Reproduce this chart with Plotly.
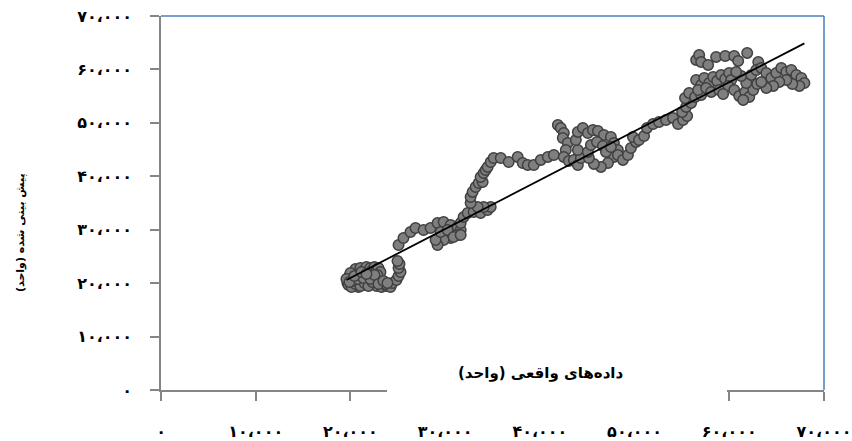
import numpy as np
import plotly.graph_objects as go

# Actual values (x) and predicted values (y), in units
actual = [
    19680, 20000, 20210, 19890, 20320, 20630, 20840, 20530, 21050, 21270,
    21480, 21690, 21900, 22110, 22320, 22540, 22750, 22960, 23170, 22850,
    22320, 21800, 21270, 20740, 20320, 20840, 21370, 21690, 21160, 20630,
    20000, 20420, 20950, 22000, 22640, 22220, 22750, 23280, 23810, 24230,
    23700, 24440, 24860, 25080, 25290, 25080, 25180, 24970,
    19790, 20110, 20530, 21050, 21480, 21900, 22320, 20210, 20740, 21370,
    22110, 22540, 19580, 19890, 20420, 21160, 21690, 22960, 23490, 23910,
    25080, 25600, 26340, 26870, 27720, 28460, 29200, 29840, 30580, 31320,
    31640, 31320, 30580, 29840, 29200, 28990, 29520, 30260, 30890, 31640,
    31640, 31950, 32380, 33010, 33750, 34490, 34810, 34070, 33430, 32690,
    32690, 32900, 33220, 33540, 33960, 33750, 34070, 34280, 34490, 34810,
    35120, 35870, 36710, 37660, 38190, 38720, 39360, 40100, 40840, 41480,
    41900, 42210, 42530, 42420, 42950, 42740, 42530, 43060, 43590, 44010,
    44330, 44010, 43800, 44010, 44540, 45070, 45600, 46130, 46760, 47500,
    47820, 48240, 47820, 47190, 46450, 45710, 45180, 45070, 45390, 46030,
    46660, 46980, 47500, 48240, 48770, 49300, 49620, 50150, 49830, 50470,
    51000, 51310, 51950, 52580, 53320, 54060, 54590, 55120, 55550, 55020,
    55440, 55970, 55330, 55760, 56390, 57030,
    56500, 56820, 57030, 57770, 58610, 59570, 60520, 60940, 61890, 63060,
    56500, 57030, 56710, 57350, 57880, 58300, 57560, 58090, 58720, 59140,
    59570, 59990, 60200, 59880, 60520, 61050, 61680, 62110, 62530, 62950,
    61790, 61260, 60730, 62320, 62850, 63380, 63910, 64430, 64960, 65490,
    66020, 66550, 67080, 67610, 67930, 67400, 66660, 66020, 65280, 64640,
    63910, 63380, 58930, 59350, 61470,
]

predicted = [
    20030, 20590, 20970, 21340, 21900, 21530, 22280, 22650, 22840, 22090,
    22460, 23030, 22280, 22840, 22460, 23030, 22280, 22840, 22090, 21530,
    21150, 20780, 20400, 20030, 19660, 19280, 19660, 20220, 21150, 20780,
    21900, 20400, 21710, 21530, 20590, 19840, 19470, 19280, 19470, 19280,
    19840, 20030, 20590, 21340, 22090, 22840, 23590, 24150,
    19660, 19280, 19840, 19470, 20030, 19470, 20220, 20400, 20780, 20970,
    20780, 21530, 20780, 20220, 21340, 22090, 21710, 19840, 20400, 20030,
    27140, 28450, 29580, 30330, 29950, 30330, 31260, 31450, 30890, 30510,
    29950, 29010, 28450, 28080, 27140, 28080, 29580, 29950, 28640, 29010,
    31260, 32390, 33130, 33320, 33130, 33700, 34260, 34260, 34260, 35010,
    36130, 37070, 38000, 38750, 38940, 39870, 40620, 41180, 41750, 42680,
    43430, 43430, 42680, 43620, 42490, 42120, 42120, 43060, 43620, 43990,
    49610, 49050, 48110, 47170, 46240, 44930, 43620, 42870, 43060, 42120,
    43430, 44930, 46800, 48300, 49050, 48110, 48670, 48490, 47740, 47360,
    46240, 44930, 43620, 42490, 41750, 42310, 43430, 44560, 45860, 46430,
    45680, 44560, 45490, 43990, 43060, 43990, 45300, 46430, 47360, 46800,
    47550, 49050, 49790, 50170, 50540, 50920, 49790, 50540, 51290, 52040,
    52980, 53730, 54660, 55600, 54850, 55220,
    61780, 62710, 61400, 60840, 62340, 62520, 62520, 61590, 63090, 61400,
    58030, 57100, 56160, 58400, 57470, 58590, 56540, 55790, 57840, 58970,
    58220, 59340, 58030, 56910, 56160, 55040, 55790, 54850, 56160, 57280,
    57470, 58780, 59530, 58970, 59900, 60280, 59340, 58400, 59340, 60280,
    59530, 59900, 58970, 58400, 57470, 56910, 57280, 58030, 57660, 56910,
    56540, 57660, 56160, 55410, 54290,
]

tick_values = [0, 10000, 20000, 30000, 40000, 50000, 60000, 70000]
tick_labels = ["۰", "۱۰،۰۰۰", "۲۰،۰۰۰", "۳۰،۰۰۰", "۴۰،۰۰۰", "۵۰،۰۰۰", "۶۰،۰۰۰", "۷۰،۰۰۰"]

x_title = "داده\u200cهای واقعی (واحد)"
y_title = "پیش بینی شده (واحد)"

# Linear trend line fitted to the points
x_arr = np.array(actual, dtype=float)
y_arr = np.array(predicted, dtype=float)
slope, intercept = np.polyfit(x_arr, y_arr, 1)
trend_x = np.array([x_arr.min(), x_arr.max()])
trend_y = slope * trend_x + intercept

FONT = "DejaVu Sans"
AXIS_GRAY = "#868686"
BORDER_BLUE = "#4A7EBB"

fig = go.Figure()
fig.add_trace(go.Scatter(
    x=actual, y=predicted, mode="markers",
    marker=dict(size=10.5, color="#7F7F7F", line=dict(color="#404040", width=1.5)),
    showlegend=False, hoverinfo="skip",
))
fig.add_trace(go.Scatter(
    x=trend_x, y=trend_y, mode="lines",
    line=dict(color="#000000", width=1.8),
    showlegend=False, hoverinfo="skip",
))

axis_common = dict(
    range=[0, 70000],
    tickvals=tick_values,
    ticktext=tick_labels,
    showgrid=False,
    zeroline=False,
    showline=True,
    linecolor=AXIS_GRAY,
    linewidth=1.5,
    ticks="outside",
    ticklen=9,
    tickwidth=1.5,
    tickcolor=AXIS_GRAY,
    tickfont=dict(family=FONT, size=16, color="#000000", weight="bold"),
    fixedrange=True,
    automargin=False,
)

fig.update_layout(
    width=852, height=441,
    margin=dict(l=161, r=28, t=16, b=51, autoexpand=False),
    paper_bgcolor="white", plot_bgcolor="white",
    xaxis=dict(**axis_common, ticklabelstandoff=17),
    yaxis=dict(**axis_common, ticklabelstandoff=15),
    shapes=[
        # plot-area border on the top and right sides
        dict(type="line", xref="paper", yref="paper", x0=0, x1=1, y0=1, y1=1,
             line=dict(color=BORDER_BLUE, width=1.5), layer="below"),
        dict(type="line", xref="paper", yref="paper", x0=1, x1=1, y0=0, y1=1,
             line=dict(color=BORDER_BLUE, width=1.5), layer="below"),
        # white box behind the x-axis title
        dict(type="rect", xref="paper", yref="paper",
             x0=(387 - 161) / 663, x1=(727 - 161) / 663,
             y0=-0.035, y1=0.11,
             fillcolor="white", line=dict(width=0), layer="above"),
    ],
    annotations=[
        dict(text=x_title, xref="paper", yref="paper",
             x=(541 - 161) / 663, y=(390 - 373) / 374,
             xanchor="center", yanchor="middle", showarrow=False,
             font=dict(family=FONT, size=15, color="#000000", weight="bold")),
        dict(text=y_title, xref="paper", yref="paper",
             x=-(161 - 20) / 663, y=(390 - 233) / 374,
             xanchor="center", yanchor="middle", showarrow=False, textangle=-90,
             font=dict(family=FONT, size=11, color="#000000", weight="bold")),
    ],
)

fig.write_html("out.html")
